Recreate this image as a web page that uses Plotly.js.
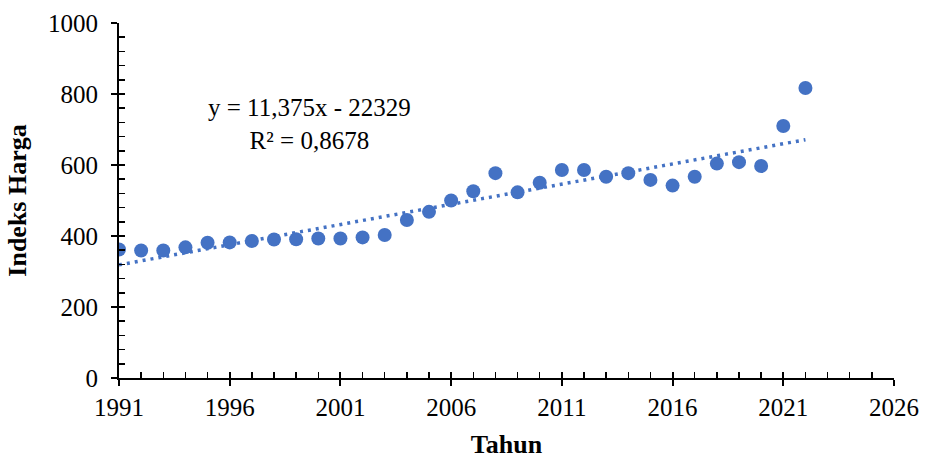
<!DOCTYPE html>
<html>
<head>
<meta charset="utf-8">
<script src="https://cdn.plot.ly/plotly-3.0.1.min.js"></script>
<style>html,body{margin:0;padding:0;background:#fff;}#chart{width:925px;height:459px;}</style>
</head>
<body>
<div id="chart"></div>
<script>
const years = [1991,1992,1993,1994,1995,1996,1997,1998,1999,2000,2001,2002,2003,2004,2005,2006,2007,2008,2009,2010,2011,2012,2013,2014,2015,2016,2017,2018,2019,2020,2021,2022];
const indeksHarga = [362,359,359,368,381,382,386,390,391,393,393,396,403,445,468,500,526,577,523,550,586,586,567,577,558,542,567,604,608,597,710,817];
const trendSlope = 11.375;
const trendIntercept = -22329;
const trendYears = [1991, 2022];
const equationText = "y = 11,375x - 22329<br>R² = 0,8678";
const xTitle = "Tahun";
const yTitle = "Indeks Harga";

const trendValues = trendYears.map(x => trendSlope * x + trendIntercept);
const blue = "#4472C4";
const font = "Liberation Serif";

const traces = [
  {x: trendYears, y: trendValues, type: "scatter", mode: "lines",
   line: {color: blue, width: 3.5, dash: "3px,5px"}, hoverinfo: "skip", showlegend: false},
  {x: years, y: indeksHarga, type: "scatter", mode: "markers",
   marker: {color: blue, size: 14}, showlegend: false},
  {x: [], y: [], xaxis: "x2", yaxis: "y2", type: "scatter", mode: "markers", showlegend: false, hoverinfo: "skip"}
];

const layout = {
  width: 925, height: 459,
  margin: {l: 119, r: 31, t: 23, b: 81},
  paper_bgcolor: "#fff", plot_bgcolor: "#fff",
  font: {family: font, color: "#000", size: 25},
  showlegend: false,
  xaxis: {
    range: [1991, 2026], tickvals: [1991,1996,2001,2006,2011,2016,2021,2026],
    showgrid: false, zeroline: false, showline: true, linecolor: "#000", linewidth: 2,
    ticks: "outside", ticklen: 6, tickwidth: 2, tickcolor: "#000",
    tickfont: {family: font, size: 25, color: "#000"},
    title: {text: "<b>" + xTitle + "</b>", font: {family: font, size: 26, color: "#000"}, standoff: 16}
  },
  yaxis: {
    range: [0, 1000], dtick: 200,
    showgrid: false, zeroline: false, showline: true, linecolor: "#000", linewidth: 2,
    ticks: "outside", ticklen: 6, tickwidth: 2, tickcolor: "#000", ticklabelstandoff: 8,
    tickfont: {family: font, size: 25, color: "#000"},
    title: {text: "<b>" + yTitle + "</b>", font: {family: font, size: 26, color: "#000"}, standoff: 14}
  },
  xaxis2: {
    overlaying: "x", range: [1991, 2026], tickvals: [1991,1996,2001,2006,2011,2016,2021,2026],
    showgrid: false, zeroline: false, showline: false, showticklabels: false,
    ticks: "inside", ticklen: 6, tickwidth: 2, tickcolor: "#000",
    minor: {dtick: 1, ticks: "inside", ticklen: 6, tickwidth: 1.5, tickcolor: "#000", showgrid: false}
  },
  yaxis2: {
    overlaying: "y", range: [0, 1000], dtick: 200,
    showgrid: false, zeroline: false, showline: false, showticklabels: false,
    ticks: "inside", ticklen: 6, tickwidth: 2, tickcolor: "#000",
    minor: {dtick: 40, ticks: "inside", ticklen: 6, tickwidth: 1.5, tickcolor: "#000", showgrid: false}
  },
  annotations: [{
    x: 1999.6, y: 716, xref: "x", yref: "y", text: equationText, showarrow: false,
    align: "center", font: {family: font, size: 25, color: "#000"}
  }]
};

Plotly.newPlot("chart", traces, layout, {displayModeBar: false, staticPlot: true});
</script>
</body>
</html>
